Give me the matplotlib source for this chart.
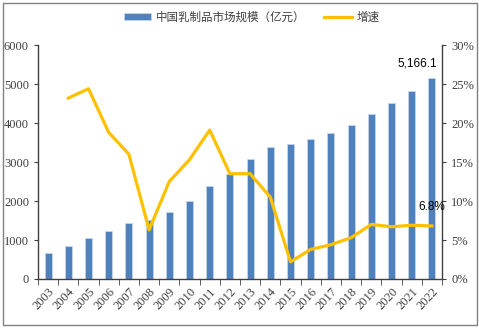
import numpy as np
import matplotlib
matplotlib.use('Agg')
import matplotlib.pyplot as plt
from matplotlib.patches import Rectangle

plt.rcParams['font.family'] = ['Liberation Serif', 'Noto Sans CJK SC']

years = ['2003', '2004', '2005', '2006', '2007', '2008', '2009', '2010', '2011', '2012',
         '2013', '2014', '2015', '2016', '2017', '2018', '2019', '2020', '2021', '2022']
# market size, 100 million yuan
market_size = [675, 838, 1043, 1240, 1444, 1521, 1726, 1991, 2376, 2700,
               3069, 3392, 3462, 3581, 3735, 3949, 4222, 4504, 4829, 5166.1]
# growth rate (%), starts in 2004
growth = [23.2, 24.4, 18.8, 16.0, 6.3, 12.5, 15.3, 19.1, 13.5,
          13.5, 10.5, 2.2, 3.8, 4.4, 5.3, 7.0, 6.7, 6.9, 6.8]

bar_color = '#4F81BD'
line_color = '#FFC000'
tick_color = '#404040'

fig = plt.figure(figsize=(4.79, 3.29), dpi=100)
ax = fig.add_axes([0.0793, 0.152, 0.8435, 0.711])
ax2 = ax.twinx()

x = np.arange(len(years))
ax.bar(x, market_size, width=0.34, color=bar_color, edgecolor='#C5D5EA', linewidth=0.6,
       label='中国乳制品市场规模（亿元）', zorder=2)
ax2.plot(x[1:], growth, color=line_color, lw=2.3, label='增速', zorder=3)

ax.set_xlim(-0.5, len(years) - 0.5)
ax.set_ylim(0, 6000)
ax.set_yticks(np.arange(0, 6001, 1000))
ax2.set_ylim(0, 30)
ax2.set_yticks(np.arange(0, 31, 5))
ax2.set_yticklabels([f'{v}%' for v in range(0, 31, 5)])

ax.set_xticks(x)
ax.set_xticklabels(years, rotation=47, ha='right', rotation_mode='anchor')
ax.set_xticks(np.arange(-0.5, len(years), 1), minor=True)
ax.tick_params(axis='x', which='major', length=0, pad=5, labelsize=9, labelcolor=tick_color)
ax.tick_params(axis='x', which='minor', length=4, direction='out', color='#404040')
ax.tick_params(axis='y', length=3, labelsize=9, labelcolor=tick_color, color='#404040')
ax2.tick_params(axis='y', length=3, labelsize=9, labelcolor=tick_color, color='#404040')

for a in (ax, ax2):
    a.spines['top'].set_visible(False)
    for s in ('left', 'right', 'bottom'):
        a.spines[s].set_color('#404040')
        a.spines[s].set_linewidth(1.0)
ax.spines['right'].set_visible(False)
ax2.spines['left'].set_visible(False)
ax2.spines['bottom'].set_visible(False)

ax.text(x[-1] - 0.7, market_size[-1] + 220, f'{market_size[-1]:,.1f}', ha='center', va='bottom',
        fontsize=8.5, family='Liberation Sans', color='black')
ax2.text(x[-1], growth[-1] + 1.6, f'{growth[-1]}%', ha='center', va='bottom',
         fontsize=8.5, family='Liberation Sans', color='black')

h1, l1 = ax.get_legend_handles_labels()
h2, l2 = ax2.get_legend_handles_labels()
fig.legend(h1 + h2, l1 + l2, loc='center', bbox_to_anchor=(0.525, 0.948), ncol=2, frameon=False,
           prop={'family': 'Noto Sans CJK SC', 'size': 8.3}, handlelength=2.4,
           handleheight=0.6, handletextpad=0.4, columnspacing=1.6, labelcolor=tick_color)

fig.patches.append(Rectangle((0.006, 0.012), 0.99, 0.978, transform=fig.transFigure,
                             fill=False, edgecolor='#808080', linewidth=1.0))

fig.savefig('out.png', dpi=100)
